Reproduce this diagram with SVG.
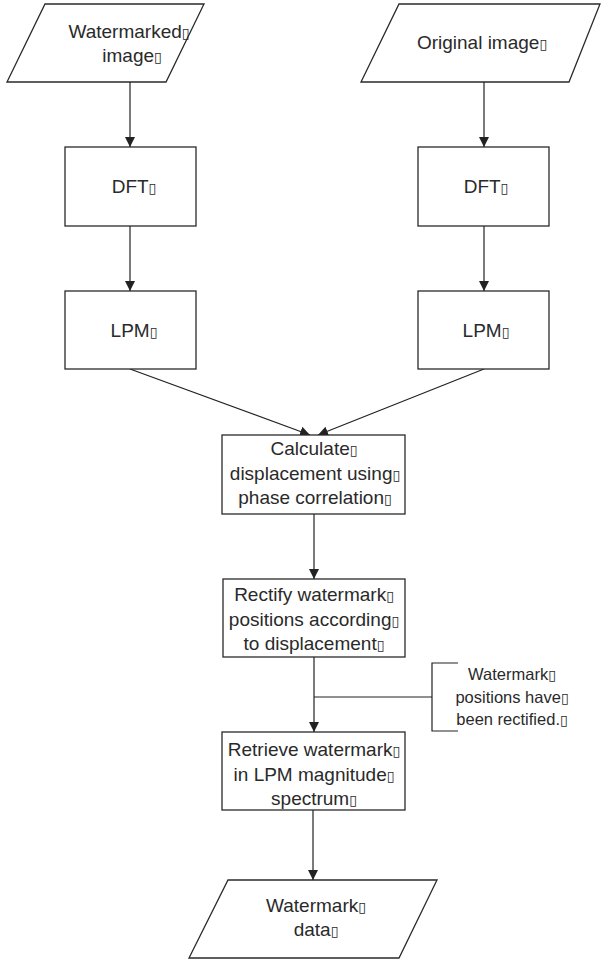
<svg xmlns="http://www.w3.org/2000/svg" width="602" height="962" viewBox="0 0 602 962">
<style>
.shape{fill:#fff;stroke:#2a2a2a;stroke-width:1.3}
.t{font-family:"Liberation Sans",Arial,sans-serif;font-size:19px;fill:#2a2a2a;text-anchor:middle}
.s{font-family:"Liberation Sans",Arial,sans-serif;font-size:16.5px;fill:#2a2a2a;text-anchor:middle}
.tofu{font-family:"DejaVu Sans",sans-serif;font-size:14px}
.c{fill:none;stroke:#222;stroke-width:1.2}
</style>
<defs>
<marker id="ah" markerWidth="10" markerHeight="12" refX="10" refY="5" orient="auto" markerUnits="userSpaceOnUse" viewBox="0 0 10 10">
<path d="M0,0 L10,5 L0,10 Z" fill="#222"/>
</marker>
</defs>
<g id="connectors">
<line class="c" x1="130" y1="82" x2="130" y2="147" marker-end="url(#ah)"/>
<line class="c" x1="484" y1="82" x2="484" y2="147" marker-end="url(#ah)"/>
<line class="c" x1="130" y1="226" x2="130" y2="291" marker-end="url(#ah)"/>
<line class="c" x1="484" y1="226" x2="484" y2="291" marker-end="url(#ah)"/>
<line class="c" x1="130" y1="369" x2="310" y2="435" marker-end="url(#ah)"/>
<line class="c" x1="484" y1="369" x2="318" y2="435" marker-end="url(#ah)"/>
<line class="c" x1="314" y1="514" x2="314" y2="579" marker-end="url(#ah)"/>
<line class="c" x1="314" y1="657" x2="314" y2="732" marker-end="url(#ah)"/>
<line class="c" x1="314" y1="697" x2="432" y2="697"/>
<line class="c" x1="313" y1="810" x2="313" y2="880" marker-end="url(#ah)"/>
</g>
<g id="watermarked-image">
<polygon class="shape" points="45,4 204,4 166,82 7,82"/>
<text class="t" x="129" y="38">Watermarked<tspan class="tofu">▯</tspan></text>
<text class="t" x="132" y="62">image<tspan class="tofu">▯</tspan></text>
</g>
<g id="original-image">
<polygon class="shape" points="399,4 600,4 569,82 361,82"/>
<text class="t" x="482" y="49">Original image<tspan class="tofu">▯</tspan></text>
</g>
<g id="dft-left">
<rect class="shape" x="65" y="147" width="131" height="79"/>
<text class="t" x="134" y="193">DFT<tspan class="tofu">▯</tspan></text>
</g>
<g id="dft-right">
<rect class="shape" x="418" y="147" width="131" height="79"/>
<text class="t" x="486" y="193">DFT<tspan class="tofu">▯</tspan></text>
</g>
<g id="lpm-left">
<rect class="shape" x="65" y="291" width="131" height="78"/>
<text class="t" x="134" y="337">LPM<tspan class="tofu">▯</tspan></text>
</g>
<g id="lpm-right">
<rect class="shape" x="418" y="291" width="131" height="78"/>
<text class="t" x="486" y="337">LPM<tspan class="tofu">▯</tspan></text>
</g>
<g id="calculate">
<rect class="shape" x="222" y="435" width="183" height="79"/>
<text class="t" x="314" y="455">Calculate<tspan class="tofu">▯</tspan></text>
<text class="t" x="315" y="480">displacement using<tspan class="tofu">▯</tspan></text>
<text class="t" x="315" y="504">phase correlation<tspan class="tofu">▯</tspan></text>
</g>
<g id="rectify">
<rect class="shape" x="223" y="579" width="182" height="78"/>
<text class="t" x="314" y="601">Rectify watermark<tspan class="tofu">▯</tspan></text>
<text class="t" x="314" y="626">positions according<tspan class="tofu">▯</tspan></text>
<text class="t" x="314" y="650">to displacement<tspan class="tofu">▯</tspan></text>
</g>
<g id="retrieve">
<rect class="shape" x="222" y="732" width="183" height="78"/>
<text class="t" x="314" y="756">Retrieve watermark<tspan class="tofu">▯</tspan></text>
<text class="t" x="314" y="781">in LPM magnitude<tspan class="tofu">▯</tspan></text>
<text class="t" x="314" y="805">spectrum<tspan class="tofu">▯</tspan></text>
</g>
<g id="annotation">
<path class="c" d="M458,663 L432,663 L432,731 L458,731"/>
<text class="s" x="512" y="680">Watermark<tspan class="tofu">▯</tspan></text>
<text class="s" x="512" y="703">positions have<tspan class="tofu">▯</tspan></text>
<text class="s" x="512" y="725">been rectified.<tspan class="tofu">▯</tspan></text>
</g>
<g id="watermark-data">
<polygon class="shape" points="228,880 437,880 399,958 189,958"/>
<text class="t" x="316" y="912">Watermark<tspan class="tofu">▯</tspan></text>
<text class="t" x="316" y="936">data<tspan class="tofu">▯</tspan></text>
</g>
</svg>
